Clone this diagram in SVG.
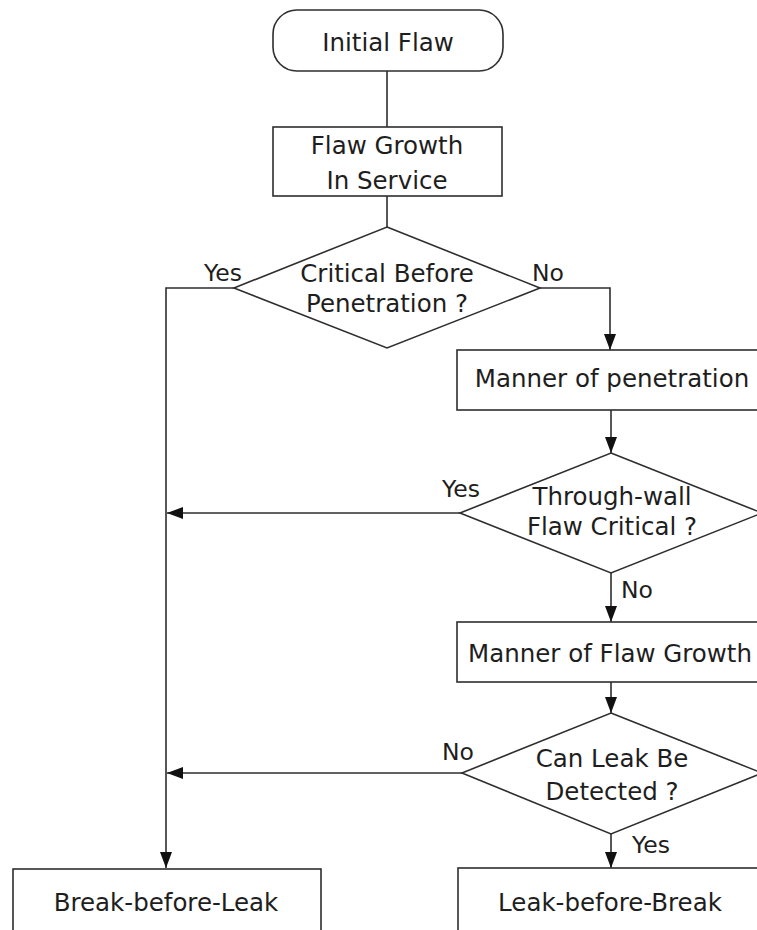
<svg xmlns="http://www.w3.org/2000/svg" width="757" height="930" viewBox="0 0 757 930">
<style>
.n{fill:#fff;stroke:#2e2e2e;stroke-width:1.6}
.t{font-family:"DejaVu Sans",Verdana,sans-serif;font-size:24.5px;fill:#1e1e1e;text-anchor:middle}
.l{font-family:"DejaVu Sans",Verdana,sans-serif;font-size:23.5px;fill:#1e1e1e}
.c{fill:none;stroke:#2e2e2e;stroke-width:1.6}
</style>
<defs>
<marker id="a" markerUnits="userSpaceOnUse" markerWidth="18" markerHeight="14" refX="16" refY="6" orient="auto"><path d="M0,0 L16,6 L0,12 z" fill="#111"/></marker>
</defs>
<rect width="757" height="930" fill="#fff"/>
<g id="connectors">
<line class="c" x1="387" y1="71" x2="387" y2="127"/>
<line class="c" x1="387" y1="196" x2="387" y2="227"/>
<polyline class="c" points="234,288 166,288 166,868" marker-end="url(#a)"/>
<polyline class="c" points="540,288 610,288 610,350" marker-end="url(#a)"/>
<line class="c" x1="611" y1="410" x2="611" y2="453" marker-end="url(#a)"/>
<line class="c" x1="460" y1="513" x2="167" y2="513" marker-end="url(#a)"/>
<line class="c" x1="611" y1="573" x2="611" y2="622" marker-end="url(#a)"/>
<line class="c" x1="611" y1="682" x2="611" y2="713" marker-end="url(#a)"/>
<line class="c" x1="462" y1="773" x2="167" y2="773" marker-end="url(#a)"/>
<line class="c" x1="611" y1="834" x2="611" y2="868" marker-end="url(#a)"/>
<text class="l" x="204" y="281">Yes</text>
<text class="l" x="532" y="281">No</text>
<text class="l" x="442" y="497">Yes</text>
<text class="l" x="621" y="598">No</text>
<text class="l" x="442" y="760">No</text>
<text class="l" x="632" y="853">Yes</text>
</g>
<g id="initial-flaw">
<rect class="n" x="273" y="10" width="230" height="61" rx="24"/>
<text class="t" x="388" y="51">Initial Flaw</text>
</g>
<g id="flaw-growth">
<rect class="n" x="273" y="127" width="229" height="69"/>
<text class="t" x="387" y="154">Flaw Growth</text>
<text class="t" x="387" y="189">In Service</text>
</g>
<g id="critical-before">
<polygon class="n" points="387,227 540,288 387,348 234,288"/>
<text class="t" x="387" y="282">Critical Before</text>
<text class="t" x="387" y="312">Penetration ?</text>
</g>
<g id="manner-penetration">
<rect class="n" x="457" y="350" width="306" height="60"/>
<text class="t" x="612" y="387">Manner of penetration</text>
</g>
<g id="through-wall">
<polygon class="n" points="611,453 762,513 611,573 460,513"/>
<text class="t" x="612" y="505">Through-wall</text>
<text class="t" x="612" y="535">Flaw Critical ?</text>
</g>
<g id="manner-growth">
<rect class="n" x="457" y="622" width="306" height="60"/>
<text class="t" x="610" y="662">Manner of Flaw Growth</text>
</g>
<g id="leak-detected">
<polygon class="n" points="611,713 762,773 611,834 462,773"/>
<text class="t" x="612" y="767">Can Leak Be</text>
<text class="t" x="612" y="800">Detected ?</text>
</g>
<g id="leak-before-break">
<rect class="n" x="458" y="868" width="306" height="80"/>
<text class="t" x="610" y="911">Leak-before-Break</text>
</g>
<g id="break-before-leak">
<rect class="n" x="13" y="869" width="308" height="80"/>
<text class="t" x="166" y="911">Break-before-Leak</text>
</g>
</svg>
